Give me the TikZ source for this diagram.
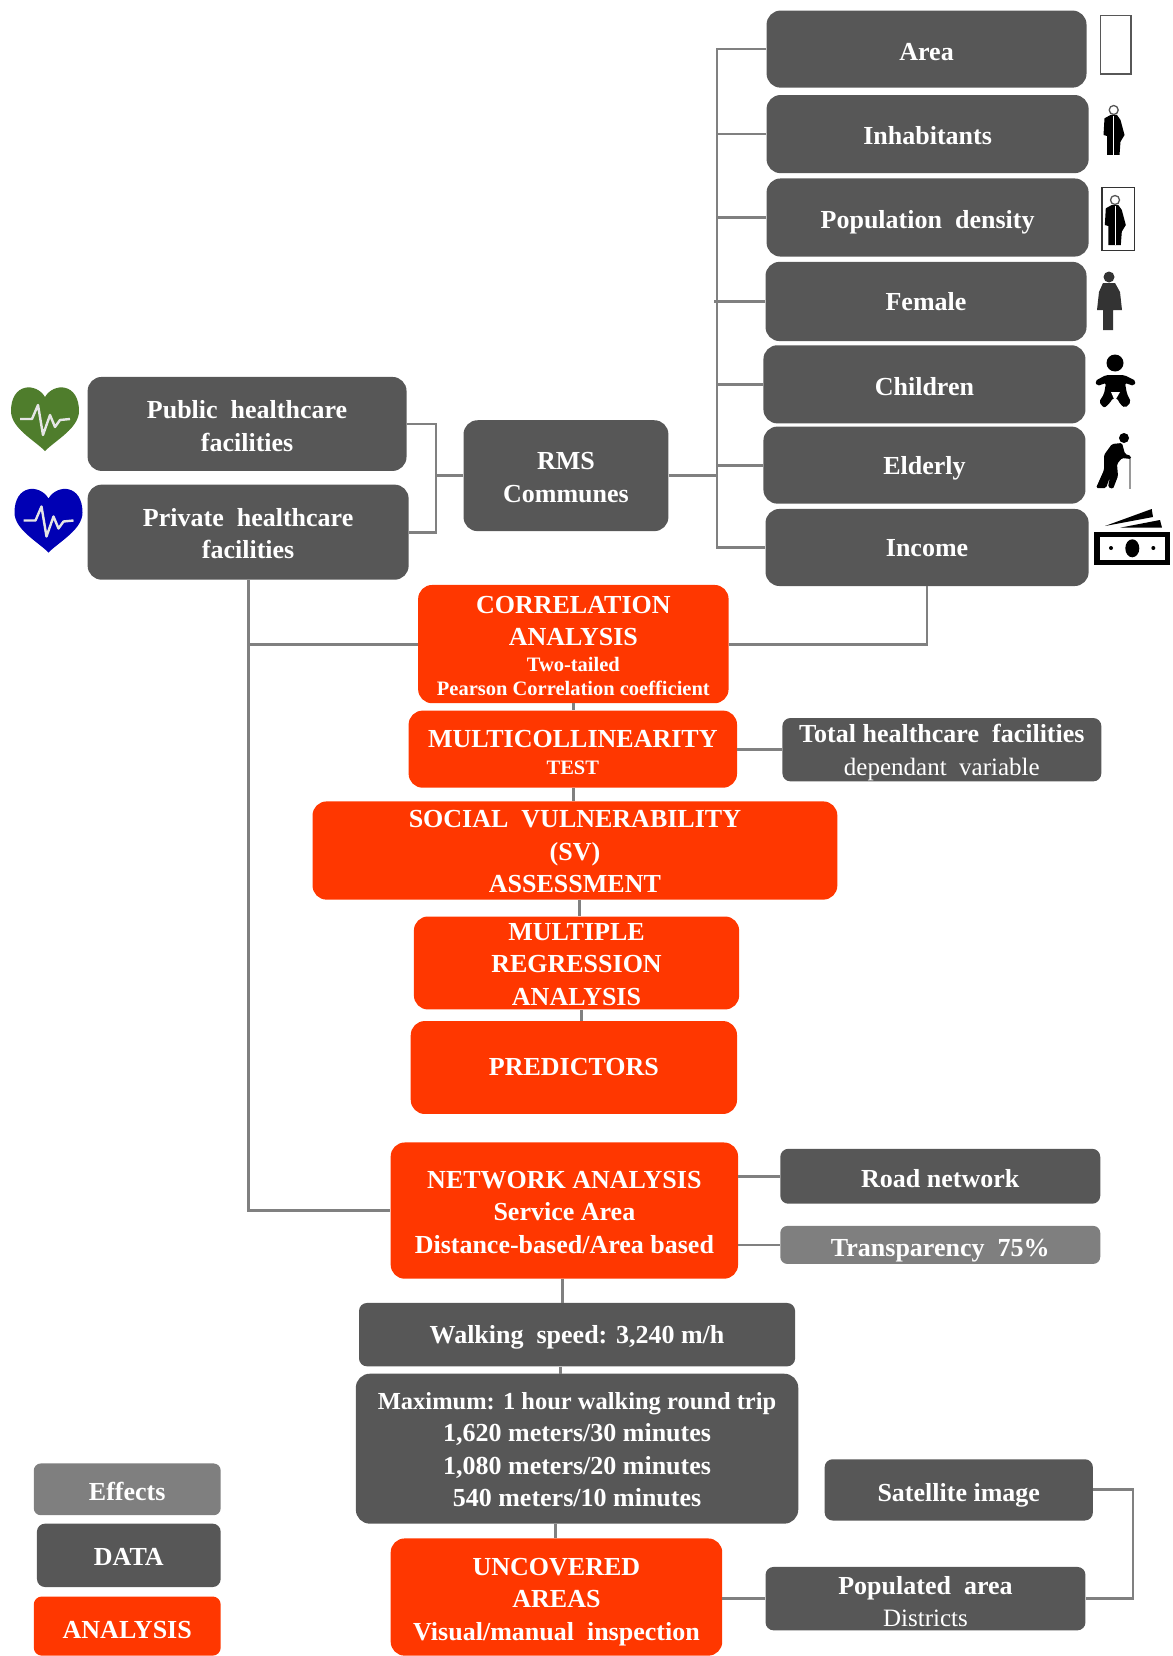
\documentclass[tikz,border=0pt]{standalone}
\usepackage{fontspec}
\setmainfont{Liberation Serif}
\definecolor{darkbox}{HTML}{575757}
\definecolor{orangebox}{HTML}{FF3700}
\definecolor{effectbox}{HTML}{7F7F7F}
\definecolor{linkgrey}{HTML}{808080}
\definecolor{heartgreen}{HTML}{4F7D2C}
\definecolor{heartblue}{HTML}{0000B4}
\newsavebox\bxsave
\newlength\bxup
\newlength\bxdn
% text block set lower in its box by an amount that grows with #1; its box stays as tall as the minimum height says
\newcommand\bxtext[2]{\sbox\bxsave{\begin{tabular}{@{}c@{}}#2\end{tabular}}%
  \setlength\bxup{\dimexpr(\ht\bxsave-\dp\bxsave)/2+#1pt+1pt\relax}%
  \setlength\bxdn{\dimexpr2pt-\bxup\relax}%
  \raisebox{0pt}[\bxup][\bxdn]{\usebox\bxsave}}
\newcommand\bxnode[8][]{%
  \pgfmathsetmacro\bxw{(#5-#3)*1.0559}%
  \pgfmathsetmacro\bxh{(#6-#4)*1.0559}%
  \node[#1,minimum width=\bxw pt,minimum height=\bxh pt] (#2) at ({(#3+#5)/2},{(#4+#6)/2}) {\bxtext{#7}{#8}};}
\newcommand\ftbig{\fontsize{26}{32.5}\selectfont\bfseries}
\newcommand\ftmid{\fontsize{24.5}{32}\selectfont\bfseries}
\newcommand\ftsml{\fontsize{20.5}{23}\selectfont\bfseries}
\newcommand\ftreg{\fontsize{25}{31}\selectfont\mdseries}
\newcommand\wsep{\ \ }
\tikzset{
  basebox/.style={rounded corners=14pt,inner sep=0pt,text=white,font=\ftbig},
  databox/.style={basebox,fill=darkbox},
  anabox/.style={basebox,fill=orangebox},
  fxbox/.style={basebox,fill=effectbox,rounded corners=7pt},
  link/.style={draw=linkgrey,line width=2.8pt},
  heart/.pic={
    \fill (45,397) .. controls (36,382) and (11,383) .. (11,411) .. controls (11,428) and (34,440) .. (45,451) .. controls (56,440) and (79,428) .. (79,411) .. controls (79,383) and (54,382) .. (45,397) -- cycle;
    \draw[white!90!black,line width=2.4pt,line join=round] (20,419) -- (32,419) -- (38,405) -- (43,435) -- (50,415) -- (55,427) -- (60,420) -- (70,419);
  },
  manfig/.pic={
    \fill[black] (1103.5,135) -- (1104.5,118.3) -- (1110.5,115) -- (1117,115) -- (1120.5,120) -- (1124.5,135) -- (1120.5,141.7) -- (1119.5,155) -- (1107,155) -- (1107,136) -- cycle;
    \draw[white,line width=.4pt] (1113.5,116) -- (1113.5,155);
    \draw[darkbox,fill=white,line width=1.3pt] (1113.7,110) circle[radius=4.5];
  },
}
\begin{document}
\begin{tikzpicture}[x=1.0559pt,y=-1.0559pt]
\begin{scope}[x=1pt,y=-1pt]
\useasboundingbox (0,0) rectangle (1172,1656);
\end{scope}
% right column
\bxnode[databox]{area}{726}{10}{1029}{83}{14.5}{Area}
\bxnode[databox]{inhab}{726}{90}{1031}{164}{13.5}{Inhabitants}
\bxnode[databox]{dens}{726}{169}{1031}{243}{13.5}{Population\wsep density}
\bxnode[databox]{female}{725}{248}{1029}{323}{10.4}{Female}
\bxnode[databox]{child}{723}{327}{1028}{401}{14.5}{Children}
\bxnode[databox]{elder}{723}{404}{1028}{477}{11.4}{Elderly}
\bxnode[databox]{income}{725}{482}{1031}{555}{9.4}{Income}
% left
\bxnode[databox]{public}{83}{357}{385}{446}{14.6}{Public\wsep healthcare\\facilities}
\bxnode[databox]{private}{83}{459}{387}{549}{13}{Private\wsep healthcare\\facilities}
\bxnode[databox]{rms}{439}{398}{633}{503}{13}{RMS\\Communes}
% analysis
\bxnode[anabox]{corr}{396}{554}{690}{666}{12.5}{CORRELATION\\ANALYSIS\\[-6.5pt]{\ftsml Two-tailed}\\[-9pt]{\ftsml Pearson Correlation coefficient}}
\bxnode[anabox]{multi}{387}{673}{698}{746}{16}{MULTICOLLINEARITY\\[-6pt]{\ftsml TEST}}
\bxnode[databox,rounded corners=8pt]{total}{741}{680}{1043}{740}{10.7}{Total healthcare\wsep facilities\\{\ftreg dependant\wsep variable}}
\bxnode[anabox]{sv}{296}{759}{793}{852}{12}{SOCIAL\wsep VULNERABILITY\\(SV)\\ASSESSMENT}
\bxnode[anabox]{mr}{392}{868}{700}{956}{11.4}{MULTIPLE\\REGRESSION\\ANALYSIS}
\bxnode[anabox]{pred}{389}{967}{698}{1055}{8.2}{PREDICTORS}
\bxnode[anabox]{na}{370}{1082}{699}{1211}{12.2}{NETWORK ANALYSIS\\Service Area\\Distance-based/Area based}
\bxnode[databox,rounded corners=8pt]{road}{739}{1088}{1042}{1140}{14.5}{Road network}
\bxnode[fxbox]{transp}{739}{1161}{1042}{1197}{14.5}{Transparency\wsep 75\%}
\bxnode[databox,rounded corners=8pt]{walk}{340}{1234}{753}{1294}{9.2}{Walking\wsep speed: 3,240 m/h}
\bxnode[databox]{maxi}{337}{1301}{756}{1443}{10.7}{{\ftmid Maximum: 1 hour walking round trip}\\1,620 meters/30 minutes\\1,080 meters/20 minutes\\540 meters/10 minutes}
\bxnode[anabox]{uncov}{370}{1457}{684}{1568}{13.9}{UNCOVERED\\AREAS\\Visual/manual\wsep inspection}
\bxnode[databox,rounded corners=8pt]{sat}{781}{1382}{1035}{1440}{16.3}{Satellite image}
\bxnode[databox,rounded corners=8pt]{popa}{725}{1484}{1028}{1544}{15.8}{Populated\wsep area\\{\ftreg Districts}}
% legend
\bxnode[fxbox]{lfx}{32}{1386}{209}{1435}{14.3}{Effects}
\bxnode[databox,rounded corners=8pt]{ldata}{35}{1443}{209}{1503}{12.2}{DATA}
\bxnode[anabox,rounded corners=8pt]{lana}{32}{1512}{209}{1568}{16.3}{ANALYSIS}
% helper coordinates
\coordinate (trunk) at (679,451);
\coordinate (fembus) at (676,451);
\coordinate (hbus) at (413,451);
\coordinate (c1) at (543,0);
\coordinate (c2) at (549,0);
\coordinate (c3) at (551,0);
\coordinate (c4) at (533,0);
\coordinate (c5) at (531,0);
\coordinate (c6) at (526,0);
\coordinate (sbus) at (1073,0);
% connectors
\draw[link] (area.west) -- (area.west -| trunk) -- (income.west -| trunk) -- (income.west);
\draw[link] (inhab.west) -- (inhab.west -| trunk);
\draw[link] (dens.west) -- (dens.west -| trunk);
\draw[link] (female.west) -- (female.west -| fembus);
\draw[link] (child.west) -- (child.west -| trunk);
\draw[link] (elder.west) -- (elder.west -| trunk);
\draw[link] (rms.east) -- (rms.east -| trunk);
\draw[link] (public.east) -- (public.east -| hbus) -- (private.east -| hbus) -- (private.east);
\draw[link] (rms.west) -- (rms.west -| hbus);
\draw[link] (private.south) -- (na.west -| private.south) -- (na.west);
\draw[link] (corr.west -| private.south) -- (corr.west);
\draw[link] (income.south) |- (corr.east);
\draw[link] (corr.south -| c1) -- (multi.north -| c1);
\draw[link] (multi.south -| c1) -- (sv.north -| c1);
\draw[link] (sv.south -| c2) -- (mr.north -| c2);
\draw[link] (mr.south -| c3) -- (pred.north -| c3);
\draw[link] (multi.east) -- (multi.east -| total.west);
\draw[link] (na.east |- road.west) -- (road.west);
\draw[link] (na.east |- transp.west) -- (transp.west);
\draw[link] (na.south -| c4) -- (walk.north -| c4);
\draw[link] (walk.south -| c5) -- (maxi.north -| c5);
\draw[link] (maxi.south -| c6) -- (uncov.north -| c6);
\draw[link] (uncov.east |- popa.west) -- (popa.west);
\draw[link] (popa.east) -- (popa.east -| sbus) -- (sat.east -| sbus) -- (sat.east);
% icons in full-size pixels
\begin{scope}[x=1pt,y=-1pt]
\pic[heartgreen] {heart};
\pic[heartblue,shift={(3.5,101.5)}] {heart};
\draw[darkbox,fill=white,line width=1.4pt] (1100.5,15.5) rectangle (1131,74);
\pic {manfig};
\pic[shift={(1.3,90)}] {manfig};
\draw[black!80,line width=1.4pt] (1102,187.3) rectangle (1134.7,250.7);
% female
\fill[black!80] (1109,277) circle[radius=5.5];
\fill[black!80] (1103,283) -- (1115,283) -- (1120,292) -- (1122,310) -- (1113,310) -- (1113,330) -- (1103,330) -- (1103,310) -- (1097,310) -- (1099,292) -- cycle;
% baby
\fill[black] (1115,363) circle[radius=8.5];
\fill[black,rounded corners=2pt] (1095,381) -- (1106,375) -- (1124,375) -- (1136,381) -- (1134,386) -- (1125,383) -- (1127,394) -- (1131,402) -- (1125,408) -- (1120,404) -- (1117,398) -- (1113,398) -- (1109,404) -- (1104,408) -- (1099,402) -- (1104,394) -- (1106,383) -- (1097,386) -- cycle;
\fill[white] (1111,392) -- (1120,392) -- (1116,399) -- (1114,399) -- cycle;
% elderly
\fill[black] (1124,438) circle[radius=5];
\draw[linkgrey!80!white,line width=1.6pt] (1130,457) -- (1130,489);
\fill[black,rounded corners=1.5pt] (1112,444) -- (1122,443) -- (1125,454) -- (1131,456) -- (1131,459) -- (1122,458) -- (1117,464) -- (1118,476) -- (1113,489) -- (1108,487) -- (1110,477) -- (1106,488) -- (1096,488) -- (1104,470) -- (1104,455) -- cycle;
% money
\fill[black] (1094,532) rectangle (1170,565);
\fill[white] (1100,537) rectangle (1165,560);
\fill[black] (1132.3,548.3) ellipse[x radius=7,y radius=9];
\fill[black] (1111,548) circle[radius=2];
\fill[black] (1153.3,548) circle[radius=2];
\fill[black] (1105,526) -- (1151.7,509) -- (1153,517) -- cycle;
\fill[black] (1120,527.7) -- (1160,520) -- (1162,527.7) -- cycle;
\end{scope}
\end{tikzpicture}
\end{document}
